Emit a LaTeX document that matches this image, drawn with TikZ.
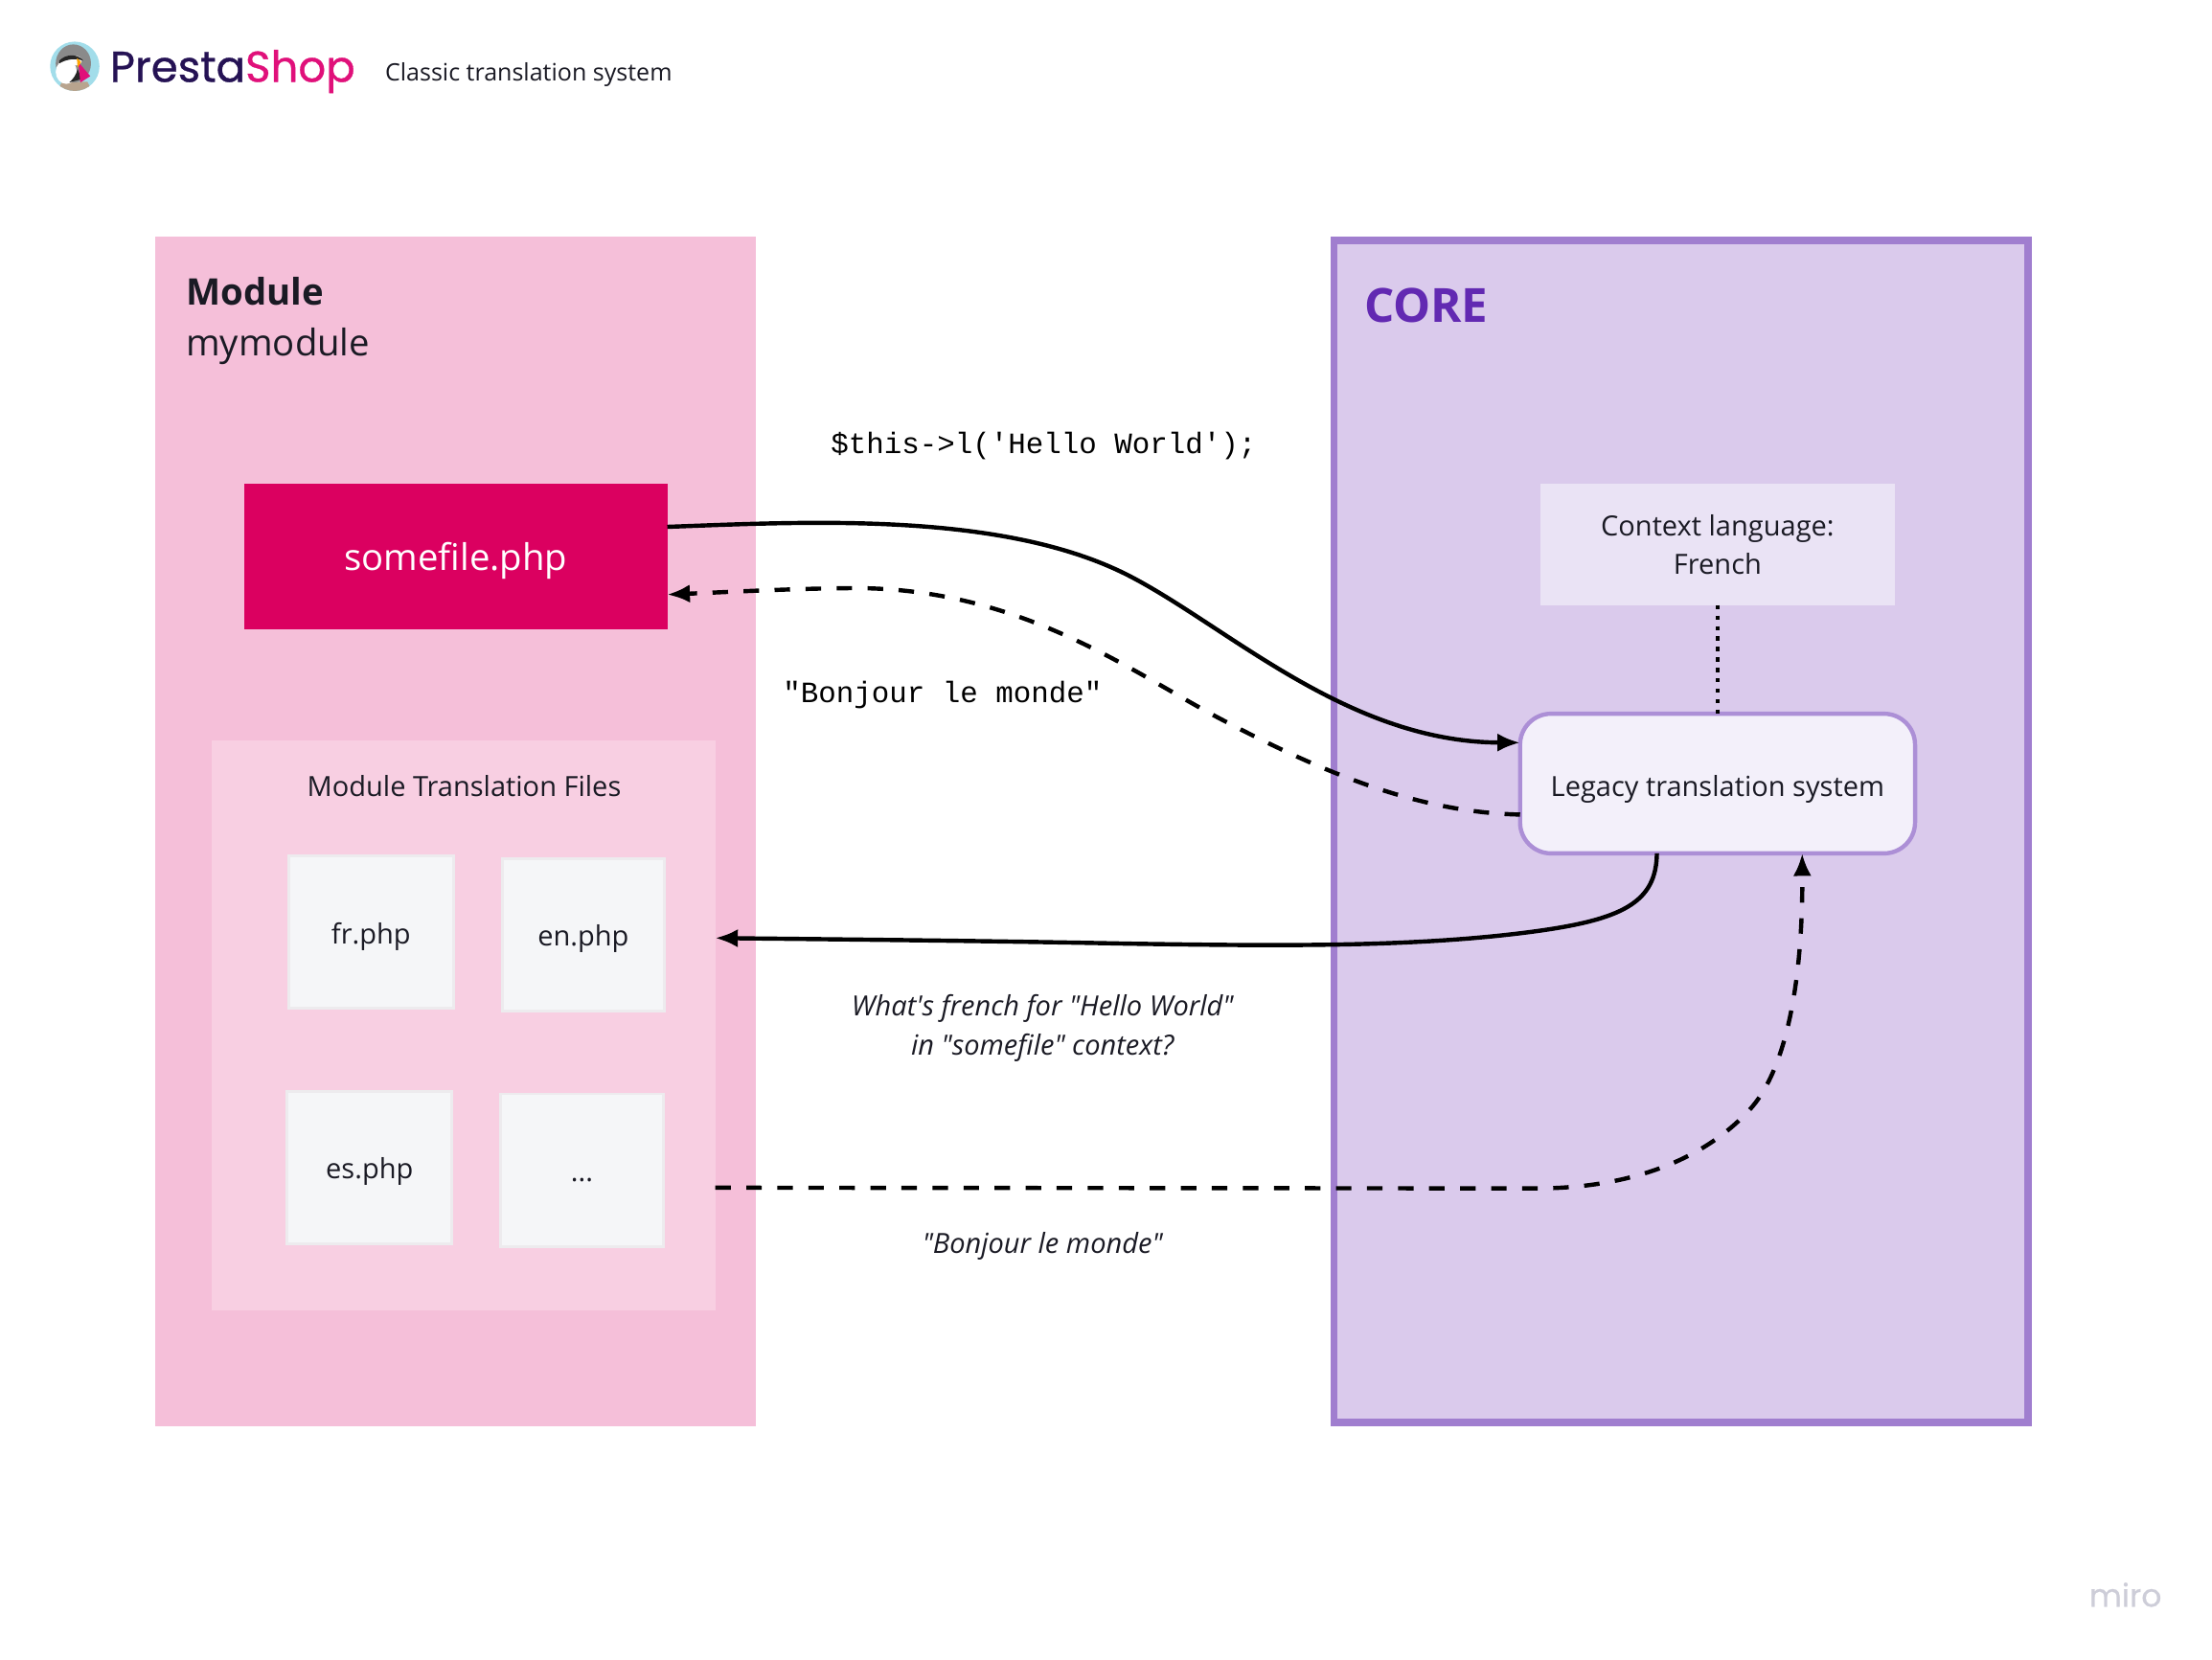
\documentclass[tikz,border=0pt]{standalone}
\usepackage{fontspec}
\setmainfont{Open Sans}
\setmonofont{Liberation Mono}
\newfontfamily\logofont[FakeBold=0.7]{Poppins}
\newfontfamily\mirofont[FakeBold=0.4]{Poppins}
\newfontfamily\rawsans{Open Sans}
\usetikzlibrary{arrows.meta,calc}
\definecolor{modpink}{HTML}{F5BFD9}
\definecolor{panelpink}{HTML}{F8CFE2}
\definecolor{filegray}{HTML}{F5F6F8}
\definecolor{fileedge}{HTML}{EDEBEE}
\definecolor{hotpink}{HTML}{DB0060}
\definecolor{corefill}{HTML}{DACAEC}
\definecolor{coreedge}{HTML}{A07ECF}
\definecolor{legedge}{HTML}{AC8FD6}
\definecolor{corename}{HTML}{6229B2}
\definecolor{ctxfill}{HTML}{EAE3F5}
\definecolor{legfill}{HTML}{F3F0FA}
\definecolor{inkc}{HTML}{1A1A24}
\definecolor{logoink}{HTML}{251254}
\definecolor{logosky}{HTML}{A2DDEA}
\definecolor{logohead}{HTML}{8A8A8A}
\definecolor{logotan}{HTML}{B8A48E}
\definecolor{logopink}{HTML}{E0107A}
\definecolor{mirogray}{HTML}{CDCDD8}
\tikzset{
  plain/.style={inner sep=0pt,outer sep=0pt,align=center,text=inkc},
  filebox/.style={plain,draw=fileedge,line width=1pt,fill=filegray,minimum width=58.5pt,minimum height=54pt,text height=11pt,text depth=2.6pt,font=\fontsize{9.85}{12}\selectfont},
  label/.style={plain,font=\fontsize{9.85}{13.7}\selectfont},
  ital/.style={plain,font=\fontsize{9.85}{13.7}\rawsans\itshape},
  code/.style={plain,font=\fontsize{10.47}{14}\ttfamily,text=black},
  conn/.style={line width=1.5pt,draw=black},
  arrow/.style={conn,-{Latex[length=8pt,width=6.5pt]}},
  dashline/.style={dash pattern=on 5.5pt off 5.5pt},
}
\begin{document}
\begin{tikzpicture}[x=0.5pt,y=-0.5pt]
\useasboundingbox (0,0) rectangle (1568,1176.2);
\fill[white] (0,0) rectangle (1568,1176.2);
% logo
\fill[logosky] (53,47) circle (17.5);
\begin{scope}
\clip (53,47) circle (17.5);
\fill[logotan] (44,58) -- (62,58) -- (66,66) -- (40,66) -- cycle;
\fill[logohead] (52,45) ellipse (12.5 and 13.5);
\fill[white] (47,51) ellipse (7.5 and 8.5);
\fill[white] (53,43) ellipse (5 and 3.5);
\fill[black!85] (42,43) .. controls (47,38) and (55,38) .. (59,43) .. controls (53,41) and (47,42) .. (42,45) -- cycle;
\fill[black!85] (55,49) -- (58,56) -- (49,58.5) .. controls (52,56) and (54,53) .. (55,49) -- cycle;
\fill[logopink] (55.5,44) -- (64,54) -- (57,58.5) -- cycle;
\fill[orange!70!yellow] (54.5,41) -- (57.5,44) -- (55,48) -- cycle;
\end{scope}
\node[plain,anchor=base west,text=logoink,font=\fontsize{15.3}{18}\logofont] (logo) at (78,58) {Presta\textcolor{logopink}{Shop}};
\node[label,anchor=base west,font=\fontsize{8.5}{12}\selectfont] (title) at (273,57.5) {Classic translation system};
% containers
\node[plain,fill=modpink,minimum width=213pt,minimum height=421.5pt] (module) at (323,589.5) {};
\node[draw=coreedge,fill=corefill,line width=2.5pt,inner sep=0pt,minimum width=246pt,minimum height=419pt] (core) at (1191.5,589.5) {};
\node[label,anchor=base west,font=\fontsize{13}{18}\selectfont\bfseries] (modname) at (132,216) {Module};
\node[label,anchor=base west,font=\fontsize{13}{18}\selectfont] (modsub) at (132,252) {mymodule};
\node[plain,anchor=base west,text=corename,font=\fontsize{16.7}{20}\selectfont\bfseries] (corename) at (967,228.5) {CORE};
% left inner
\node[plain,fill=hotpink,text=white,minimum width=150pt,minimum height=51.5pt,text height=13pt,text depth=2.9pt,font=\fontsize{13}{16}\selectfont] (some) at (323,394.5) {somefile.php};
\node[plain,fill=panelpink,minimum width=178.5pt,minimum height=202pt] (panel) at (328.5,727) {};
\node[label] (paneltitle) at (329,557.5) {Module Translation Files};
\node[filebox] (fr) at (263,660.5) {fr.php};
\node[filebox,minimum width=57.5pt] (en) at (413.5,662.5) {en.php};
\node[filebox] (es) at (262,827.5) {es.php};
\node[filebox,minimum width=57.5pt] (more) at (412.5,829.5) {...};
% right inner
\node[label,fill=ctxfill,minimum width=125.5pt,minimum height=43pt] (ctx) at (1217.5,386) {Context language:\\French};
\node[label,draw=legedge,fill=legfill,line width=1.5pt,rounded corners=11pt,minimum width=140pt,minimum height=49.5pt,text height=11.5pt,text depth=2.3pt] (legacy) at (1217.5,555.5) {Legacy translation system};
% labels
\node[code,anchor=base west] (codea) at (589,321.5) {\$this->l('Hello World');};
\node[code,anchor=base west] (codeb) at (555,498) {"Bonjour le monde"};
\node[ital] (quest) at (739,729) {What's french for "Hello World"\\in "somefile" context?};
\node[ital] (answer) at (739,883.5) {"Bonjour le monde"};
\node[plain,anchor=base west,text=mirogray,font=\fontsize{11.2}{14}\mirofont] (miro) at (1481,1139) {miro};
% connectors
\draw[conn,dash pattern=on 1.5pt off 2.2pt] (ctx.south) -- (legacy.north);
\draw[arrow] ([yshift=10.5pt]some.east) .. controls (570,370) and (710,362) .. (800,408)
  .. controls (870,444) and (955,526) .. ([yshift=14.5pt]legacy.west);
\draw[arrow,dashline] ([yshift=-11pt]legacy.west) .. controls (1010,576) and (945,552) .. (862,508)
  .. controls (800,475) and (720,415) .. (600,417)
  .. controls (560,417.3) and (510,420) .. ([yshift=-13.5pt]some.east);
\draw[arrow] ([xshift=-21.5pt]legacy.south) .. controls (1174,640) and (1150,652) .. (1086.5,660.5)
  .. controls (1000,672) and (900,670.5) .. (800,669)
  .. controls (700,667) and (600,666) .. ([yshift=31pt]panel.east);
\draw[arrow,dashline] ([yshift=-57.5pt]panel.east) -- (1086,842.5)
  .. controls (1150,843) and (1205,825) .. (1240,787)
  .. controls (1265,760) and (1278,700) .. ([xshift=30pt]legacy.south);
\end{tikzpicture}
\end{document}
